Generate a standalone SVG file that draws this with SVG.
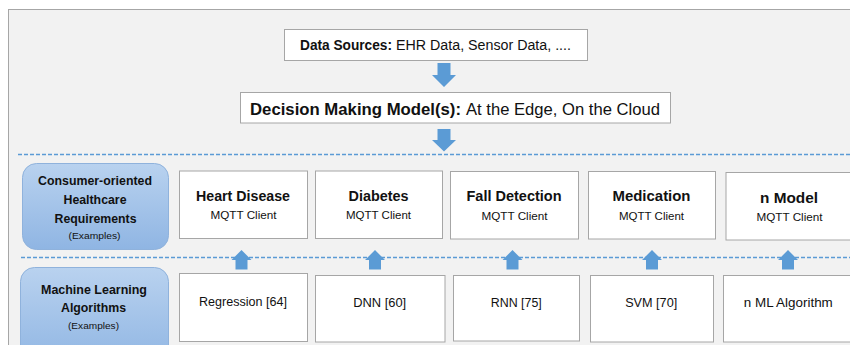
<svg xmlns="http://www.w3.org/2000/svg" width="850" height="345" viewBox="0 0 850 345">
<defs>
<style>
.t{font-family:"Liberation Sans",Arial,sans-serif;fill:#111;}
.b{font-weight:bold;}
.box{fill:#fff;stroke:#a6a6a6;stroke-width:1;}
.lane{fill:url(#g);stroke:#8fb2dc;stroke-width:1;}
.dash{stroke:#5b9bd5;stroke-width:1.5;stroke-dasharray:4 2;fill:none;}
.arr{fill:#5b9bd5;}
</style>
<linearGradient id="g" x1="0" y1="0" x2="0" y2="1">
<stop offset="0" stop-color="#b9d2ef"/>
<stop offset="1" stop-color="#8fb5e3"/>
</linearGradient>
</defs>
<rect x="8.5" y="9.5" width="900" height="400" fill="#f2f2f2" stroke="#a6a6a6" stroke-width="1"/>

<g id="connectors">
<line class="dash" x1="18" y1="154.5" x2="850" y2="154.5"/>
<line class="dash" x1="21" y1="257.5" x2="850" y2="257.5"/>
<polygon class="arr" points="437.5,63 450.5,63 450.5,75 456,75 444,87 432,75 437.5,75"/>
<polygon class="arr" points="437.5,129 450.5,129 450.5,140 456,140 444,151.5 432,140 437.5,140"/>
<polygon class="arr" points="235.5,269.5 247.5,269.5 247.5,260 251.5,260 241.5,250 231.5,260 235.5,260"/>
<polygon class="arr" points="369,269.5 381,269.5 381,260 385,260 375,250 365,260 369,260"/>
<polygon class="arr" points="506.5,269.5 518.5,269.5 518.5,260 522.5,260 512.5,250 502.5,260 506.5,260"/>
<polygon class="arr" points="646,269.5 658,269.5 658,260 662,260 652,250 642,260 646,260"/>
<polygon class="arr" points="782,269.5 794,269.5 794,260 798,260 788,250 778,260 782,260"/>
</g>

<g id="data-sources">
<rect class="box" x="284.5" y="29.5" width="303" height="31"/>
<text class="t b" x="300" y="50" font-size="14" textLength="92" lengthAdjust="spacingAndGlyphs">Data Sources:</text>
<text class="t" x="396" y="50" font-size="14" textLength="175" lengthAdjust="spacingAndGlyphs">EHR Data, Sensor Data, ....</text>
</g>

<g id="decision">
<rect class="box" x="240.5" y="92.5" width="430" height="30.5"/>
<text class="t b" x="250" y="115" font-size="17" textLength="211" lengthAdjust="spacingAndGlyphs">Decision Making Model(s):</text>
<text class="t" x="466" y="115" font-size="17" textLength="194" lengthAdjust="spacingAndGlyphs">At the Edge, On the Cloud</text>
</g>

<g id="consumer-lane">
<rect class="lane" x="22.5" y="163.5" width="146" height="86" rx="14"/>
<text class="t b" x="95" y="185" font-size="12.5" text-anchor="middle" textLength="114" lengthAdjust="spacingAndGlyphs">Consumer-oriented</text>
<text class="t b" x="95" y="203.5" font-size="12.5" text-anchor="middle" textLength="63" lengthAdjust="spacingAndGlyphs">Healthcare</text>
<text class="t b" x="95.5" y="222.5" font-size="12.5" text-anchor="middle" textLength="82" lengthAdjust="spacingAndGlyphs">Requirements</text>
<text class="t" x="94.5" y="238.5" font-size="9" text-anchor="middle" textLength="52" lengthAdjust="spacingAndGlyphs">(Examples)</text>
</g>

<g id="ml-lane">
<rect class="lane" x="20.5" y="267.5" width="148" height="100" rx="14"/>
<text class="t b" x="94" y="293.5" font-size="12.5" text-anchor="middle" textLength="106" lengthAdjust="spacingAndGlyphs">Machine Learning</text>
<text class="t b" x="93.5" y="311.5" font-size="12.5" text-anchor="middle" textLength="65" lengthAdjust="spacingAndGlyphs">Algorithms</text>
<text class="t" x="93.5" y="328.5" font-size="9" text-anchor="middle" textLength="51" lengthAdjust="spacingAndGlyphs">(Examples)</text>
</g>

<g id="heart-disease">
<rect class="box" x="179.5" y="171" width="128" height="67.5"/>
<text class="t b" x="243" y="201" font-size="15" text-anchor="middle" textLength="94" lengthAdjust="spacingAndGlyphs">Heart Disease</text>
<text class="t" x="243.5" y="218.5" font-size="11" text-anchor="middle" textLength="66" lengthAdjust="spacingAndGlyphs">MQTT Client</text>
</g>
<g id="diabetes">
<rect class="box" x="315.5" y="171" width="127" height="67.5"/>
<text class="t b" x="378.5" y="201" font-size="15" text-anchor="middle" textLength="60" lengthAdjust="spacingAndGlyphs">Diabetes</text>
<text class="t" x="378.5" y="218.5" font-size="11" text-anchor="middle" textLength="65" lengthAdjust="spacingAndGlyphs">MQTT Client</text>
</g>
<g id="fall-detection">
<rect class="box" x="450.5" y="171.5" width="128" height="67.5"/>
<text class="t b" x="514" y="201" font-size="15" text-anchor="middle" textLength="95" lengthAdjust="spacingAndGlyphs">Fall Detection</text>
<text class="t" x="514.5" y="219.5" font-size="11" text-anchor="middle" textLength="66" lengthAdjust="spacingAndGlyphs">MQTT Client</text>
</g>
<g id="medication">
<rect class="box" x="588.5" y="171.5" width="127" height="67.5"/>
<text class="t b" x="651.5" y="201" font-size="15" text-anchor="middle" textLength="78" lengthAdjust="spacingAndGlyphs">Medication</text>
<text class="t" x="651.5" y="219.5" font-size="11" text-anchor="middle" textLength="65" lengthAdjust="spacingAndGlyphs">MQTT Client</text>
</g>
<g id="n-model">
<rect class="box" x="726" y="172.5" width="140" height="67.5"/>
<text class="t b" x="789" y="202.5" font-size="15" text-anchor="middle" textLength="58" lengthAdjust="spacingAndGlyphs">n Model</text>
<text class="t" x="789.5" y="220.5" font-size="11" text-anchor="middle" textLength="66" lengthAdjust="spacingAndGlyphs">MQTT Client</text>
</g>

<g id="regression">
<rect class="box" x="179.5" y="273.5" width="128" height="68"/>
<text class="t" x="243" y="306" font-size="12.5" text-anchor="middle" textLength="88" lengthAdjust="spacingAndGlyphs">Regression [64]</text>
</g>
<g id="dnn">
<rect class="box" x="315.5" y="275.5" width="129.5" height="66.5"/>
<text class="t" x="379.7" y="307" font-size="12.5" text-anchor="middle" textLength="53" lengthAdjust="spacingAndGlyphs">DNN [60]</text>
</g>
<g id="rnn">
<rect class="box" x="453.5" y="275.5" width="126" height="65.5"/>
<text class="t" x="516.3" y="307" font-size="12.5" text-anchor="middle" textLength="51" lengthAdjust="spacingAndGlyphs">RNN [75]</text>
</g>
<g id="svm">
<rect class="box" x="590.5" y="275.5" width="123" height="66.5"/>
<text class="t" x="651.2" y="307" font-size="12.5" text-anchor="middle" textLength="52" lengthAdjust="spacingAndGlyphs">SVM [70]</text>
</g>
<g id="n-ml">
<rect class="box" x="723.5" y="275.5" width="140" height="66.5"/>
<text class="t" x="788.3" y="307" font-size="12.5" text-anchor="middle" textLength="89" lengthAdjust="spacingAndGlyphs">n ML Algorithm</text>
</g>
</svg>
